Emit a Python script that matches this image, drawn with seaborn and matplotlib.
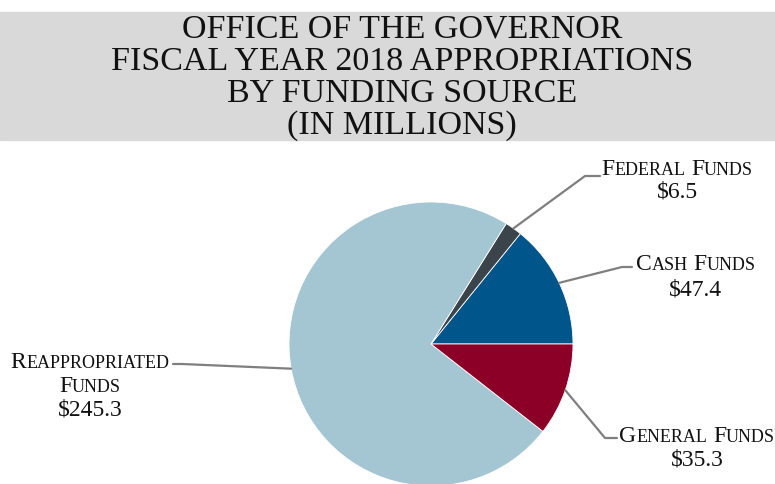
import matplotlib
matplotlib.use("Agg")
import matplotlib.pyplot as plt
import seaborn as sns
import numpy as np

# Funding sources, in drawing order (counter-clockwise from 3 o'clock)
sources = ["Cash Funds", "Federal Funds", "Reappropriated Funds", "General Funds"]
amounts = [47.4, 6.5, 245.3, 35.3]
colors = ["#00558B", "#3B444B", "#A4C6D2", "#8C0027"]

title_lines = [
    "OFFICE OF THE GOVERNOR",
    "FISCAL YEAR 2018 APPROPRIATIONS",
    "BY FUNDING SOURCE",
    "(IN MILLIONS)",
]

sns.set_theme(style="white")
plt.rcParams["font.family"] = ["Liberation Serif", "DejaVu Serif"]

W, H = 775, 485
fig = plt.figure(figsize=(W / 100, H / 100), dpi=100)

# Overlay axes in pixel coordinates (y grows downward)
ov = fig.add_axes([0, 0, 1, 1], zorder=2)
ov.set_xlim(0, W)
ov.set_ylim(H, 0)
ov.axis("off")
ov.patch.set_alpha(0)

# Title band
ov.add_patch(plt.Rectangle((0, 13), W, 128, color="#D9D9D9", zorder=0))
for i, line in enumerate(title_lines):
    ov.text(402, 38 + i * 32, line, ha="center", va="baseline",
            fontsize=24.5, color="#111111")

# Pie axes placed by pixel rectangle
cx, cy, r = 431, 345, 142
pie_ax = fig.add_axes([(cx - r) / W, (H - cy - r) / H, 2 * r / W, 2 * r / H], zorder=1)
wedges, _ = pie_ax.pie(amounts, colors=colors, startangle=0, counterclock=True,
                       wedgeprops=dict(linewidth=0.6, edgecolor="white"))
pie_ax.set_xlim(-1, 1)
pie_ax.set_ylim(-1, 1)
pie_ax.set_aspect("equal")
pie_ax.axis("off")


def edge_point(w):
    ang = np.deg2rad((w.theta1 + w.theta2) / 2)
    return cx + r * np.cos(ang), cy - r * np.sin(ang)


renderer = fig.canvas.get_renderer()


def small_caps(x, y, text, big=17, small=13, color="#111111"):
    """Draw text in small caps centred on x with baseline y (pixel coords)."""
    pieces = []
    for wi, word in enumerate(text.split(" ")):
        if wi > 0:
            pieces.append((" ", small))
        pieces.append((word[0].upper(), big))
        if len(word) > 1:
            pieces.append((word[1:].upper(), small))
    widths = []
    for s, fs in pieces:
        if s == " ":
            widths.append(fs * 0.45)
            continue
        t = ov.text(0, 0, s, fontsize=fs)
        bb = t.get_window_extent(renderer=renderer)
        widths.append(bb.width)
        t.remove()
    xpos = x - sum(widths) / 2
    for (s, fs), w in zip(pieces, widths):
        if s != " ":
            ov.text(xpos, y, s, fontsize=fs, ha="left", va="baseline", color=color)
        xpos += w


def value_text(x, y, v):
    ov.text(x, y, f"${v:.1f}", fontsize=17, ha="center", va="baseline", color="#111111")


lc = "#7F7F7F"
# Cash Funds
x0, y0 = edge_point(wedges[0])
ov.plot([x0, 622, 632], [y0, 268, 268], color=lc, lw=1.6)
small_caps(696, 270, "Cash Funds")
value_text(696, 296, amounts[0])

# Federal Funds
x0, y0 = edge_point(wedges[1])
ov.plot([x0, 585, 600], [y0, 177, 177], color=lc, lw=1.6)
small_caps(677, 175, "Federal Funds")
value_text(677, 198, amounts[1])

# Reappropriated Funds
x0, y0 = edge_point(wedges[2])
ov.plot([x0, 182, 173], [y0, 365, 365], color=lc, lw=1.6)
small_caps(90, 368, "Reappropriated")
small_caps(90, 392, "Funds")
value_text(90, 416, amounts[2])

# General Funds
x0, y0 = edge_point(wedges[3])
ov.plot([x0, 605, 617], [y0, 439, 439], color=lc, lw=1.6)
small_caps(697, 442, "General Funds")
value_text(697, 466, amounts[3])

fig.savefig("out.png", dpi=100)
